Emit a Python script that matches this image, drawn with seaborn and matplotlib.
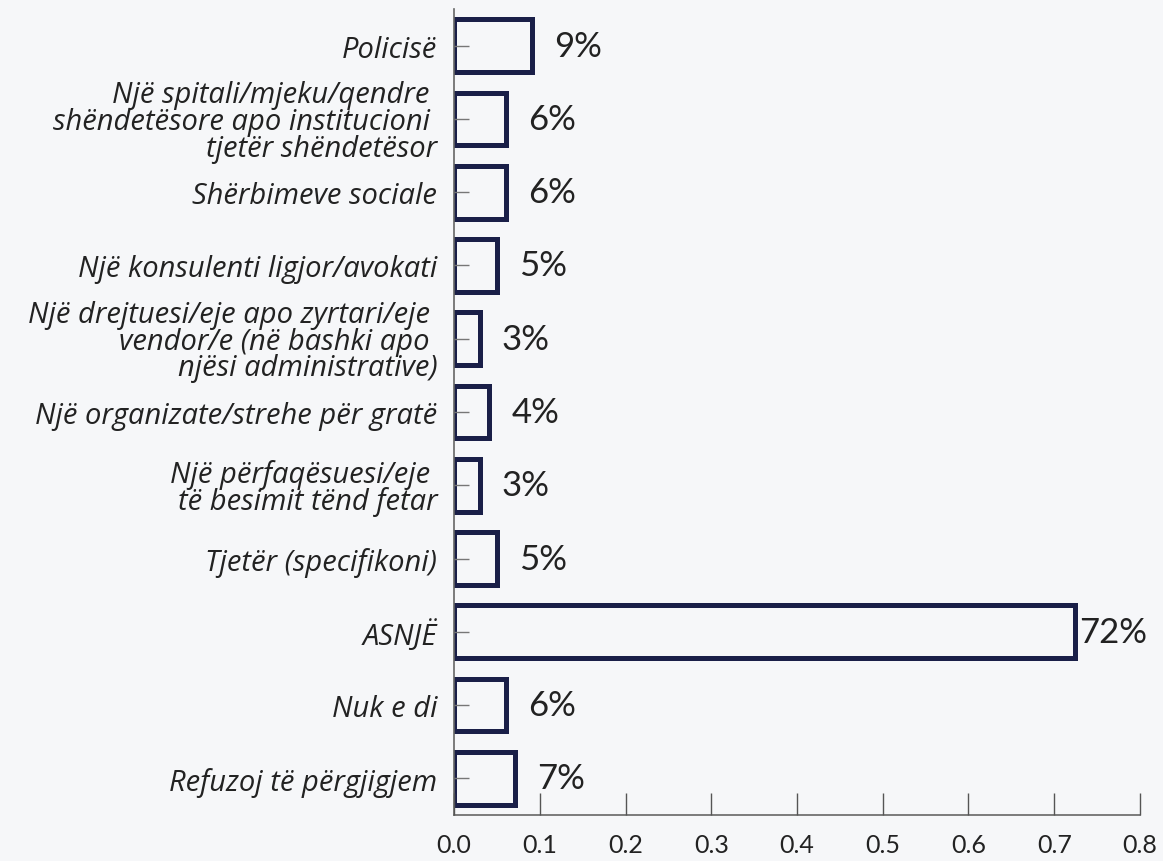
import pandas as pd
import matplotlib.pyplot as plt
import seaborn as sns

categories = [
    'Policisë',
    'Një spitali/mjeku/qendre \nshëndetësore apo institucioni \ntjetër shëndetësor',
    'Shërbimeve sociale',
    'Një konsulenti ligjor/avokati',
    'Një drejtuesi/eje apo zyrtari/eje \nvendor/e (në bashki apo \nnjësi administrative)',
    'Një organizate/strehe për gratë',
    'Një përfaqësuesi/eje \ntë besimit tënd fetar',
    'Tjetër (specifikoni)',
    'ASNJË',
    'Nuk e di',
    'Refuzoj të përgjigjem',
]
values = [0.091, 0.061, 0.061, 0.050, 0.030, 0.041, 0.030, 0.050, 0.724, 0.061, 0.071]
labels = ['9%', '6%', '6%', '5%', '3%', '4%', '3%', '5%', '72%', '6%', '7%']
xticks = [0.0, 0.1, 0.2, 0.3, 0.4, 0.5, 0.6, 0.7, 0.8]

bg = '#f6f7f9'
navy = '#1a1f48'
txt = '#222222'

df = pd.DataFrame({'cat': categories, 'val': values})

sns.set_style('white')
plt.rcParams['font.family'] = ['Lato', 'DejaVu Sans']
plt.rcParams['axes.axisbelow'] = False

fig = plt.figure(figsize=(11.63, 8.62), dpi=100, facecolor=bg)
ax = fig.add_axes([0.3904, 0.0534, 0.5898, 0.935])
ax.set_facecolor(bg)
ax.set_axisbelow(False)

# bars are hollow: same fill as the background, navy outline
sns.barplot(data=df, y='cat', x='val', orient='h', color=bg,
            edgecolor=navy, linewidth=3.6, width=0.72, saturation=1, ax=ax)

for i, (v, lab) in enumerate(zip(values, labels)):
    off = 3 if v > 0.5 else 16
    ax.annotate(lab, (v, i), xytext=(off, 0), textcoords='offset points',
                va='center', ha='left', fontsize=25, color=txt)

ax.set_xlim(0, 0.8)
ax.set_ylim(10.5, -0.5)
ax.set_xticks(xticks)
ax.set_xticklabels([f'{t:.1f}' for t in xticks])
ax.set_xlabel('')
ax.set_ylabel('')

for s in ['top', 'right']:
    ax.spines[s].set_visible(False)
for s in ['left', 'bottom']:
    ax.spines[s].set_color('#666666')
    ax.spines[s].set_linewidth(1.2)

ax.tick_params(axis='x', bottom=True, direction='in', length=16, width=1,
               color='#555555', labelsize=18, labelcolor=txt, pad=13)
ax.tick_params(axis='y', left=True, direction='in', length=11, width=1,
               color='#777777', labelsize=21, labelcolor=txt, pad=12)
for t in ax.get_xticklabels():
    t.set_fontfamily(['Liberation Sans Narrow', 'Lato', 'DejaVu Sans'])
for t in ax.get_yticklabels():
    t.set_fontfamily(['Open Sans', 'DejaVu Sans'])
    t.set_fontstyle('italic')
    t.set_multialignment('right')
    t.set_linespacing(0.9)

plt.savefig('out.png', dpi=100, facecolor=bg)
